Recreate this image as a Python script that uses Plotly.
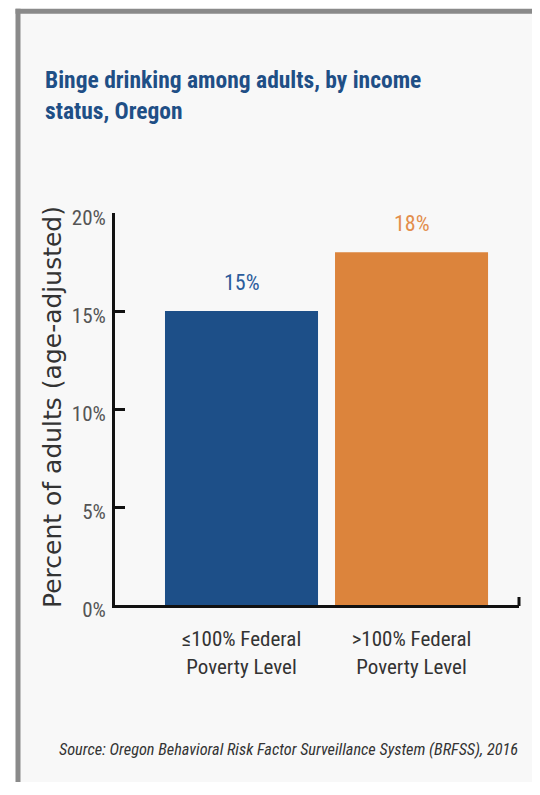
import plotly.graph_objects as go

categories = ["≤100% Federal<br>Poverty Level", ">100% Federal<br>Poverty Level"]
values = [15, 18]
value_labels = ["15%", "18%"]
bar_colors = ["#1d4f88", "#dc843c"]
label_colors = ["#2b5c9c", "#e38e4c"]
y_ticks = [0, 5, 10, 15, 20]
y_ticklabels = ["0%", "5%", "10%", "15%", "20%"]

# The page body has an 8px margin, so the figure sits at (8, 8) in the window.
W, H = 531, 774
L, R, T, B = 107, 511, 205, 597  # plot area in figure pixels

def px(x):
    return (x - L) / (R - L)

def py(y):
    return (B - y) / (B - T)

COND = "Roboto Condensed, Liberation Sans Narrow, sans-serif"

fig = go.Figure()
fig.add_trace(go.Bar(
    x=categories, y=values, marker_color=bar_colors, marker_line_width=0,
    width=0.9, hoverinfo="skip",
))

annotations = []
for c, v, t, col in zip(categories, values, value_labels, label_colors):
    annotations.append(dict(x=c, y=v, xref="x", yref="y", text=t, showarrow=False,
                            yanchor="bottom", yshift=14,
                            font=dict(family=COND, size=22, color=col)))

annotations.append(dict(x=px(44), y=py(399), xref="paper", yref="paper",
                        text="Percent of adults (age-adjusted)", textangle=-90,
                        showarrow=False, xanchor="center", yanchor="middle",
                        font=dict(family="DejaVu Sans, sans-serif", size=25, color="#333333")))
annotations.append(dict(x=px(49), y=py(741), xref="paper", yref="paper",
                        text="<i>Source: Oregon Behavioral Risk Factor Surveillance System (BRFSS), 2016</i>",
                        showarrow=False, xanchor="left", yanchor="middle",
                        font=dict(family=COND, size=16.3, color="#333333")))

shapes = [
    # inner light background
    dict(type="rect", xref="paper", yref="paper", x0=px(11), x1=px(W + 30), y0=py(H + 30), y1=py(4),
         fillcolor="#f8f8f8", line_width=0, layer="below"),
    # frame top and left
    dict(type="line", xref="paper", yref="paper", x0=px(7.5), x1=px(W + 30), y0=py(3.2), y1=py(3.2),
         line=dict(color="#8a8a8a", width=5)),
    dict(type="line", xref="paper", yref="paper", x0=px(10), x1=px(10), y0=py(0.7), y1=py(H + 30),
         line=dict(color="#8a8a8a", width=5)),
    # right end tick of x axis
    dict(type="line", xref="paper", yref="paper", x0=px(511), x1=px(511), y0=py(598), y1=py(589),
         line=dict(color="#111111", width=3)),
]

fig.update_layout(
    width=W, height=H,
    margin=dict(l=L, r=W - R, t=T, b=H - B, pad=0),
    paper_bgcolor="white", plot_bgcolor="rgba(0,0,0,0)",
    showlegend=False,
    title=dict(text="Binge drinking among adults, by income<br>status, Oregon",
               x=37 / W, xanchor="left", xref="container",
               y=1 - 80 / H, yanchor="top", yref="container",
               font=dict(family=COND, size=23.5, weight="bold", color="#1f4f86")),
    xaxis=dict(range=[-0.744, 1.632], showline=True, linecolor="#111111", linewidth=3,
               ticks="", showgrid=False, zeroline=False, ticklabelstandoff=13,
               tickfont=dict(family=COND, size=21, color="#333333")),
    yaxis=dict(range=[0, 20], tickvals=y_ticks, ticktext=y_ticklabels, showline=True,
               linecolor="#111111", linewidth=3, ticks="inside", ticklen=10, tickwidth=3,
               tickcolor="#111111", showgrid=False, zeroline=False,
               ticklabelstandoff=2, ticklabelshift=5,
               tickfont=dict(family=COND, size=21, color="#555555")),
    annotations=annotations,
    shapes=shapes,
)

fig.write_html("out.html")
